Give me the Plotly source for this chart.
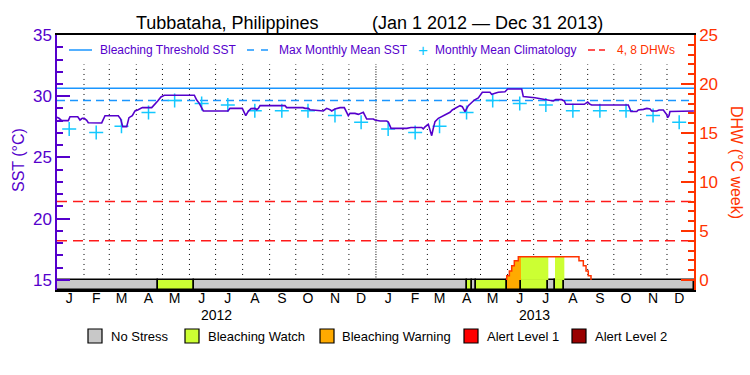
import pandas as pd
import plotly.graph_objects as go

# ---------------- data ----------------
START = pd.Timestamp("2012-01-01")
END = pd.Timestamp("2014-01-01")
years = [2012, 2013]
month_letters = ["J", "F", "M", "A", "M", "J", "J", "A", "S", "O", "N", "D"]

# daily SST (days since 2012-01-01, degC)
sst_day = [0, 2.3, 5.4, 13, 14.9, 23.8, 26.4, 29, 31.3, 34.1, 35.9, 51.3, 55.1, 70.3, 73.1, 75.4,
           80, 82.6, 86.4, 89.5, 92.6, 97.9, 108.7, 112.5, 115.6, 119.3, 123.1, 157.6, 160.3,
           163.3, 166.1, 167.9, 196.2, 198.5, 212.6, 214.6, 216.6, 219.5, 222.6, 227.2, 229.2,
           231, 233, 261.6, 263.6, 282.3, 284.6, 288.4, 290.3, 305.6, 309.5, 313.3, 315.2, 319,
           324.8, 329.7, 332.5, 334.3, 336.2, 342, 345.8, 351.5, 355.4, 363, 364.9, 370.7,
           378.4, 380.2, 383.3, 399.4, 401.3, 406.2, 418.5, 420.3, 422.3, 426.1, 428, 430,
           431.8, 433.8, 437.6, 441.5, 447.2, 451, 453.6, 456.7, 462.5, 465.1, 468.2, 472,
           478.9, 483.5, 488.1, 496.9, 498.8, 502.6, 506.4, 514.1, 517.2, 533.3, 535.1, 548.5,
           554.3, 565.7, 569.5, 572.3, 579.2, 582.2, 583.8, 605.1, 607.1, 609, 611.7, 613.6,
           655.6, 657.6, 658.7, 665.3, 667.1, 672.9, 676.8, 680.6, 682.5, 688.2, 690.9, 695.8,
           697.7, 699.6, 700.8, 702.3, 703.4, 709.2, 711.1, 730.9]
sst_val = [28.28, 28.20, 28.01, 28.01, 28.33, 28.33, 28.06, 28.20, 28.20, 28.03, 27.84, 27.82,
           28.41, 28.41, 28.14, 27.52, 27.52, 28.25, 28.41, 28.80, 28.88, 29.07, 29.07, 29.34,
           29.61, 29.94, 30.08, 30.08, 29.69, 29.42, 29.07, 28.80, 28.80, 29.01, 29.01, 28.70,
           28.41, 28.77, 28.99, 29.01, 28.90, 29.01, 29.23, 29.23, 29.07, 29.07, 29.01, 29.01,
           28.90, 28.80, 29.01, 28.90, 28.80, 28.96, 29.07, 29.07, 28.69, 28.41, 28.60, 28.60,
           28.52, 28.69, 28.14, 28.14, 28.06, 27.98, 27.98, 27.90, 27.38, 27.33, 27.38, 27.45,
           27.45, 27.33, 27.50, 27.71, 27.25, 26.78, 27.38, 27.93, 28.20, 28.33, 28.52, 28.69,
           28.88, 29.01, 29.23, 29.15, 28.75, 29.23, 29.69, 29.86, 30.32, 30.32, 30.15, 30.24,
           30.32, 30.37, 30.59, 30.59, 29.97, 29.88, 29.80, 29.61, 29.61, 29.72, 29.72, 29.61,
           29.34, 29.34, 29.45, 29.52, 29.34, 29.29, 29.29, 28.88, 28.75, 28.75, 28.88, 28.93,
           29.01, 28.96, 28.80, 28.80, 28.88, 28.88, 28.69, 28.50, 28.25, 28.41, 28.75, 28.75,
           28.80, 28.80]

# monthly mean climatology (Jan..Dec)
clim_val = [27.32, 27.04, 27.55, 28.67, 29.65, 29.40, 29.28, 28.82, 28.82, 28.82, 28.42, 27.88]
mmm = 29.65          # max monthly mean SST
threshold = 30.65    # bleaching threshold SST
dhw_levels = [4, 8]

# degree heating weeks (days since 2012-01-01, degC-weeks), stepwise
dhw_day = [516.1, 516.1, 519.1, 521.8, 524.8, 529.4, 599.0, 604.0, 607.1, 609.7, 612.8]
dhw_val = [0.0, 0.44, 0.92, 1.46, 1.97, 2.38, 1.97, 1.46, 0.92, 0.44, 0.0]

# stress level periods (0 none, 1 watch, 2 warning, 3 alert1, 4 alert2)
stress_start = [0, 116.2, 157.6, 470.2, 476.6, 480.5, 516.1, 532.5, 563.8, 571.5, 582.2]
stress_end = [116.2, 157.6, 470.2, 476.6, 480.5, 516.1, 532.5, 563.8, 571.5, 582.2, 731]
stress_level = [0, 1, 0, 1, 0, 1, 2, 1, 0, 1, 0]
stress_names = ["No Stress", "Bleaching Watch", "Bleaching Warning", "Alert Level 1", "Alert Level 2"]

# ---------------- styles ----------------
PURPLE = "#5500cc"
ORANGE = "#ff3300"
RED = "#ff1a1a"
BLUE = "#1a96ff"
CYAN = "#12c8ff"
stress_colors = ["#c8c8c8", "#ccff33", "#ffaa00", "#ff0000", "#990000"]
FONT = "Liberation Sans"

Y_BOTTOM = 14.18
Y_TOP = 35.0
DHW_PER_SST = 25.0 / 20.0
W, H = 750, 375
L, R, T, B = 57, 56, 35, 85
PW, PH = W - L - R, H - T - B


def px(x):
    return (x - L) / PW


def py(y):
    return (H - B - y) / PH


def to_date(d):
    return START + pd.to_timedelta(d, unit="D")


def dhw_at(t):
    v = 0.0
    for d, val in zip(dhw_day, dhw_val):
        if d <= t:
            v = val
    return v


fig = go.Figure()

# month separators (dotted)
month_starts = pd.date_range(START, END, freq="MS")[1:-1]
gx, gy, yx, yy = [], [], [], []
for m in month_starts:
    if m.month == 1:
        yx += [m, m, None]
        yy += [15, 32.6, None]
    else:
        gx += [m, m, None]
        gy += [15, 32.6, None]
fig.add_trace(go.Scatter(x=gx, y=gy, mode="lines", line=dict(color="black", width=1, dash="1px,4px"),
                         hoverinfo="skip", showlegend=False))
fig.add_trace(go.Scatter(x=yx, y=yy, mode="lines", line=dict(color="black", width=1, dash="1px,1.5px"),
                         hoverinfo="skip", showlegend=False))

# threshold and MMM
fig.add_trace(go.Scatter(x=[START, END], y=[threshold, threshold], mode="lines",
                         line=dict(color=BLUE, width=1.5), showlegend=False))
fig.add_trace(go.Scatter(x=[START, END], y=[mmm, mmm], mode="lines",
                         line=dict(color=BLUE, width=1.5, dash="8px,5px"), showlegend=False))

# climatology crosses
cx, cy = [], []
for yr in years:
    for i, v in enumerate(clim_val):
        cx.append(pd.Timestamp(year=yr, month=i + 1, day=1) + pd.Timedelta(days=14))
        cy.append(v)
fig.add_trace(go.Scatter(x=cx, y=cy, mode="markers",
                         marker=dict(symbol="cross-thin", size=10, line=dict(width=1.5, color=CYAN)),
                         showlegend=False))

# SST
fig.add_trace(go.Scatter(x=[to_date(d) for d in sst_day], y=sst_val, mode="lines",
                         line=dict(color=PURPLE, width=1.6), showlegend=False))

# stress bar
for s, e, lv in zip(stress_start, stress_end, stress_level):
    fig.add_trace(go.Bar(x=[to_date((s + e) / 2)], y=[15 - Y_BOTTOM], base=[Y_BOTTOM],
                         width=[(e - s) * 86400000], marker=dict(color=stress_colors[lv],
                         line=dict(color="black", width=1.5)), showlegend=False))

# DHW fills by stress level
for s, e, lv in zip(stress_start, stress_end, stress_level):
    if lv == 0:
        continue
    xs = [s] + [d for d in dhw_day if s < d < e] + [e]
    ys = [dhw_at(t) for t in xs]
    if max(ys) <= 0:
        continue
    fig.add_trace(go.Scatter(x=[to_date(t) for t in xs], y=ys, yaxis="y2", mode="lines",
                             line=dict(width=0, shape="hv"), fill="tozeroy",
                             fillcolor=stress_colors[lv], showlegend=False))

# DHW reference lines
for lvl in dhw_levels:
    fig.add_trace(go.Scatter(x=[START, END], y=[lvl, lvl], yaxis="y2", mode="lines",
                             line=dict(color=RED, width=1.5, dash="10px,6px"), showlegend=False))

# DHW line
fig.add_trace(go.Scatter(x=[to_date(d) for d in dhw_day], y=dhw_val, yaxis="y2", mode="lines",
                         line=dict(color=ORANGE, width=1.5, shape="hv"), showlegend=False))

# ---------------- annotations / legend ----------------
ann = []
shapes = []


def note(text, x, y, size, color, xanchor="center", angle=0, xref="paper"):
    ann.append(dict(text=text, x=x, y=y, xref=xref, yref="paper", xanchor=xanchor,
                    yanchor="middle", textangle=angle, showarrow=False,
                    font=dict(family=FONT, size=size, color=color)))


note("Tubbataha, Philippines", px(227.5), py(23), 18, "black")
note("(Jan 1 2012 \u2014 Dec 31 2013)", px(487.5), py(23), 18, "black")
note("SST (\u00b0C)", px(18), py(160), 16, PURPLE, angle=-90)
note("DHW (\u00b0C week)", px(737), py(162), 16, ORANGE, angle=90)
for yr in years:
    note(str(yr), pd.Timestamp(year=yr, month=7, day=2), py(315), 14, "black", xref="x")

# top legend
ly = py(50)
shapes.append(dict(type="line", xref="paper", yref="paper", x0=px(69), x1=px(92), y0=ly, y1=ly,
                   line=dict(color=BLUE, width=1.5)))
shapes.append(dict(type="line", xref="paper", yref="paper", x0=px(247), x1=px(270), y0=ly, y1=ly,
                   line=dict(color=BLUE, width=1.5, dash="7px,7px")))
shapes.append(dict(type="line", xref="paper", yref="paper", x0=px(588), x1=px(605), y0=ly, y1=ly,
                   line=dict(color=RED, width=1.5, dash="7px,4px")))
for txt, x0, col in [("Bleaching Threshold SST", 98, PURPLE), ("Max Monthly Mean SST", 277, PURPLE),
                     ("Monthly Mean Climatology", 433, PURPLE), ("4, 8 DHWs", 615, ORANGE)]:
    note(txt, px(x0), ly, 12, col, xanchor="left")
note("+", px(422.7), ly, 17, CYAN)

# bottom legend
by = 336
for name, col, sx, tx in zip(stress_names, stress_colors, [88, 185, 320, 464, 572],
                             [109, 206, 340, 485, 593]):
    shapes.append(dict(type="rect", xref="paper", yref="paper", x0=px(sx), x1=px(sx + 14),
                       y0=py(by + 7), y1=py(by - 7), fillcolor=col, line=dict(color="black", width=1.2)))
    note(name, px(tx), py(by), 13, "black", xanchor="left")

mid_month = [pd.Timestamp(year=yr, month=m, day=1) + pd.Timedelta(days=14)
             for yr in years for m in range(1, 13)]

fig.update_layout(
    width=W, height=H, margin=dict(l=L, r=R, t=T, b=B, autoexpand=False),
    paper_bgcolor="white", plot_bgcolor="white", barmode="overlay", bargap=0,
    annotations=ann, shapes=shapes, showlegend=False,
    xaxis=dict(type="date", range=[START, END], tickvals=mid_month,
               ticktext=month_letters * len(years), ticks="", showgrid=False, zeroline=False,
               showline=True, linecolor="black", linewidth=1.5, mirror=True, ticklabelstandoff=-6,
               tickfont=dict(family=FONT, size=14, color="black")),
    yaxis=dict(range=[Y_BOTTOM, Y_TOP], tickvals=[15, 20, 25, 30, 35], ticks="inside", ticklen=13,
               tickwidth=1.5, tickcolor=PURPLE, showline=True, linecolor=PURPLE, linewidth=1.5,
               showgrid=False, zeroline=False, tickfont=dict(family=FONT, size=17, color=PURPLE),
               minor=dict(tickvals=[v for v in range(16, 35) if v % 5], ticks="inside", ticklen=6,
                          tickcolor=PURPLE, tickwidth=1.5, showgrid=False)),
    yaxis2=dict(range=[(Y_BOTTOM - 15) * DHW_PER_SST, (Y_TOP - 15) * DHW_PER_SST], overlaying="y",
                side="right", tickvals=[0, 5, 10, 15, 20, 25], ticks="inside", ticklen=13,
                tickwidth=1.5, tickcolor=ORANGE, showline=True, linecolor=ORANGE, linewidth=1.5,
                showgrid=False, zeroline=False, tickfont=dict(family=FONT, size=17, color=ORANGE),
                minor=dict(tickvals=[v for v in range(1, 25) if v % 5], ticks="inside", ticklen=6,
                           tickcolor=ORANGE, tickwidth=1.5, showgrid=False)),
)

fig.write_html("out.html", config={"displayModeBar": False},
               post_script="document.body.style.margin='0';")
